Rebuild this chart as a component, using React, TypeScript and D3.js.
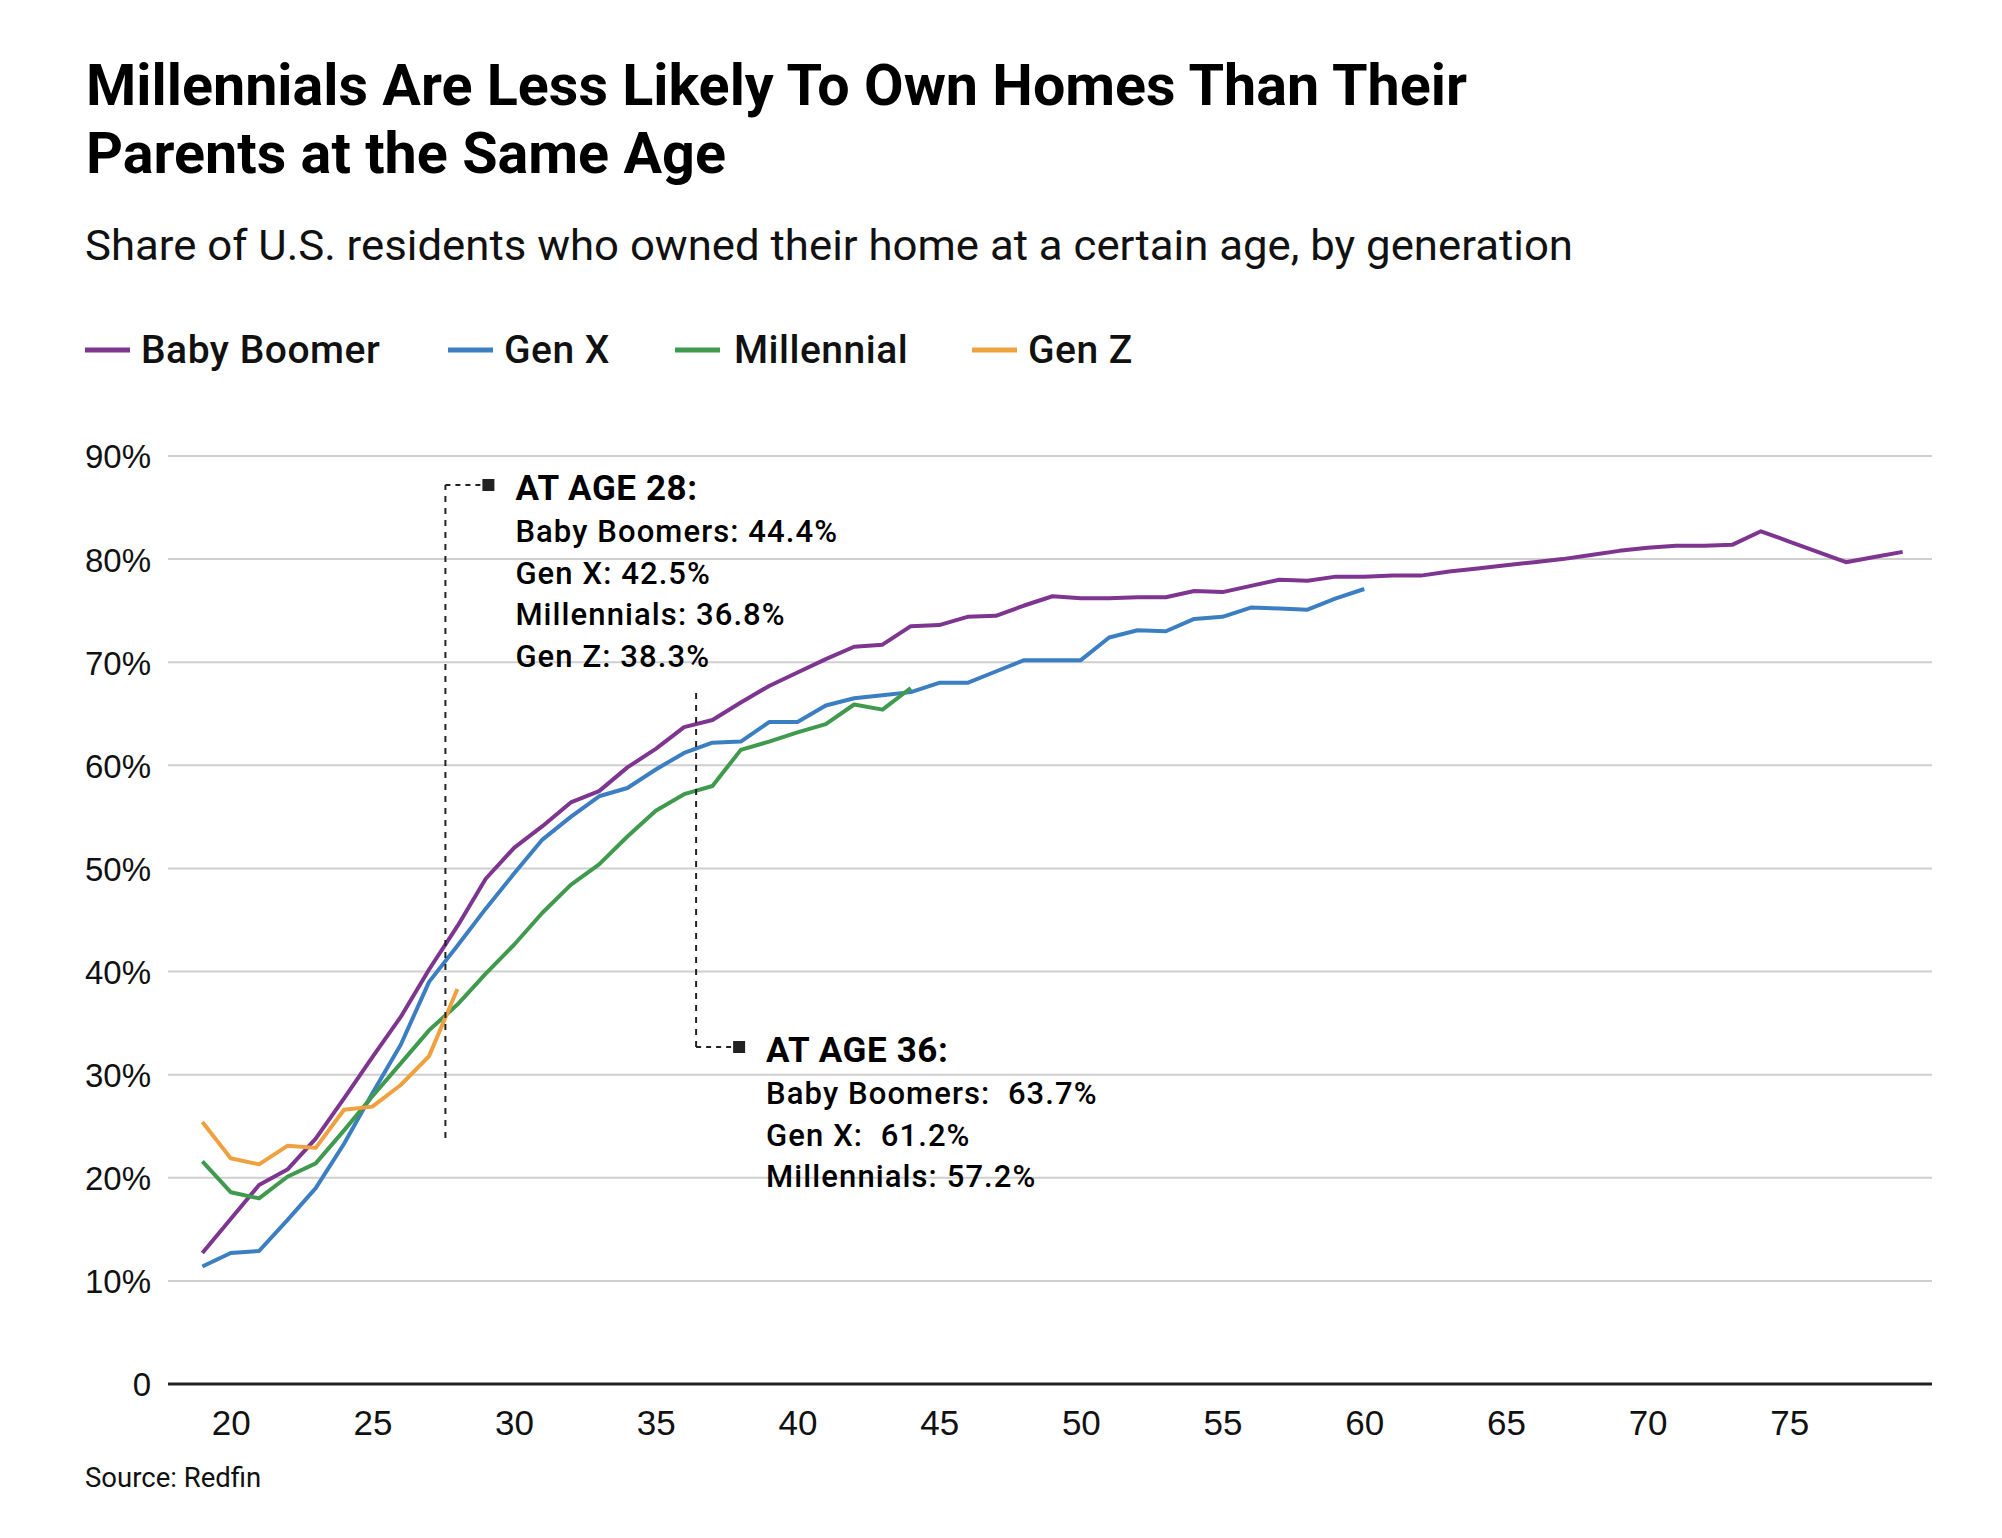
import { useEffect, useRef } from "react";
import * as d3 from "d3";

// ages start at 19 for every generation
const startAge = 19;

const boomer: number[] = [
  12.7, 16.0, 19.3, 20.8, 23.8, 27.7, 31.7, 35.6, 40.2, 44.4, 49.0, 52.0, 54.1, 56.4, 57.5, 59.8, 61.6, 63.7,
  64.4, 66.1, 67.7, 69.0, 70.3, 71.5, 71.7, 73.5, 73.6, 74.4, 74.5, 75.5, 76.4, 76.2, 76.2, 76.3, 76.3, 76.9,
  76.8, 77.4, 78.0, 77.9, 78.3, 78.3, 78.4, 78.4, 78.8, 79.1, 79.4, 79.7, 80.0, 80.4, 80.8, 81.1, 81.3, 81.3,
  81.4, 82.7, 81.7, 80.7, 79.7, 80.2, 80.7,
];

const genX: number[] = [
  11.4, 12.7, 12.9, 15.9, 19.0, 23.3, 28.2, 32.9, 39.0, 42.5, 46.1, 49.5, 52.8, 55.0, 57.0, 57.8, 59.6, 61.2,
  62.2, 62.3, 64.2, 64.2, 65.8, 66.5, 66.8, 67.1, 68.0, 68.0, 69.1, 70.2, 70.2, 70.2, 72.4, 73.1, 73.0, 74.2,
  74.4, 75.3, 75.2, 75.1, 76.2, 77.1,
];

const millennial: number[] = [
  21.6, 18.6, 18.0, 20.1, 21.4, 24.6, 27.9, 31.1, 34.3, 36.8, 39.8, 42.6, 45.7, 48.4, 50.4, 53.1, 55.6, 57.2,
  58.0, 61.5, 62.3, 63.2, 64.0, 65.9, 65.4, 67.5,
];

const genZ: number[] = [25.4, 21.9, 21.3, 23.1, 22.9, 26.6, 26.9, 29.0, 31.8, 38.3];

const seriesNames = ["Baby Boomer", "Gen X", "Millennial", "Gen Z"];
const seriesColors = ["#7e3590", "#3b7ec1", "#3f9a4d", "#efa13f"];
const seriesValues = [boomer, genX, millennial, genZ];

const xTicks = [20, 25, 30, 35, 40, 45, 50, 55, 60, 65, 70, 75];
const yTicks = [0, 10, 20, 30, 40, 50, 60, 70, 80, 90];

const note28 = ["Baby Boomers: 44.4%", "Gen X: 42.5%", "Millennials: 36.8%", "Gen Z: 38.3%"];
const note36 = ["Baby Boomers:  63.7%", "Gen X:  61.2%", "Millennials: 57.2%"];

function App() {
  const svgRef = useRef<SVGSVGElement>(null);

  useEffect(() => {
    if (!svgRef.current) return;
    const svg = d3.select(svgRef.current);
    svg.selectAll("*").remove();

    const width = 2002;
    const height = 1538;
    svg.attr("width", width).attr("height", height);

    const sans = "Roboto, 'Liberation Sans', sans-serif";
    const arial = "'Liberation Sans', Arial, sans-serif";

    svg.append("rect").attr("width", width).attr("height", height).attr("fill", "#fff");

    // scales
    const x = d3.scaleLinear().domain([20, 75]).range([230.7, 1789.3]);
    const y = d3.scaleLinear().domain([0, 90]).range([1384, 456]);
    const plotLeft = 168;
    const plotRight = 1932;

    // title block
    svg
      .append("text")
      .attr("x", 86)
      .attr("y", 105)
      .attr("font-family", sans)
      .attr("font-weight", 700)
      .attr("font-size", 58)
      .attr("textLength", 1381)
      .attr("lengthAdjust", "spacingAndGlyphs")
      .attr("fill", "#000")
      .text("Millennials Are Less Likely To Own Homes Than Their");
    svg
      .append("text")
      .attr("x", 86)
      .attr("y", 173)
      .attr("font-family", sans)
      .attr("font-weight", 700)
      .attr("font-size", 58)
      .attr("textLength", 640)
      .attr("lengthAdjust", "spacingAndGlyphs")
      .attr("fill", "#000")
      .text("Parents at the Same Age");
    svg
      .append("text")
      .attr("x", 85)
      .attr("y", 260)
      .attr("font-family", sans)
      .attr("font-size", 42)
      .attr("textLength", 1488)
      .attr("lengthAdjust", "spacingAndGlyphs")
      .attr("fill", "#111")
      .text("Share of U.S. residents who owned their home at a certain age, by generation");

    // legend
    const legendX = [85, 448, 675, 972];
    const legend = svg
      .append("g")
      .selectAll("g")
      .data(seriesNames)
      .join("g")
      .attr("transform", (_, i) => `translate(${legendX[i]},350)`);
    legend
      .append("line")
      .attr("x1", 0)
      .attr("x2", 45)
      .attr("stroke", (_, i) => seriesColors[i])
      .attr("stroke-width", 5);
    legend
      .append("text")
      .attr("x", (_, i) => (i === 2 ? 59 : 56))
      .attr("y", 13)
      .attr("font-family", sans)
      .attr("font-weight", 500)
      .attr("font-size", 39)
      .attr("letter-spacing", 0.5)
      .attr("fill", "#111")
      .text((d) => d);

    // gridlines
    svg
      .append("g")
      .selectAll("line")
      .data(yTicks.filter((d) => d > 0))
      .join("line")
      .attr("x1", plotLeft)
      .attr("x2", plotRight)
      .attr("y1", (d) => y(d))
      .attr("y2", (d) => y(d))
      .attr("stroke", "#cfcfcf")
      .attr("stroke-width", 2);

    // y axis labels
    const yAxis = svg
      .append("g")
      .attr("transform", "translate(151,0)")
      .call(
        d3
          .axisLeft(y)
          .tickValues(yTicks)
          .tickSize(0)
          .tickPadding(0)
          .tickFormat((d) => (d === 0 ? "0" : `${d}%`))
      );
    yAxis.select(".domain").remove();
    yAxis
      .selectAll("text")
      .attr("font-family", arial)
      .attr("font-size", 33)
      .attr("fill", "#111")
      .attr("dy", "0.36em");

    // x axis
    const xAxis = svg
      .append("g")
      .attr("transform", "translate(0,1384)")
      .call(d3.axisBottom(x).tickValues(xTicks).tickSize(0).tickPadding(0));
    xAxis.select(".domain").remove();
    xAxis
      .selectAll("text")
      .attr("font-family", arial)
      .attr("font-size", 35)
      .attr("fill", "#111")
      .attr("dy", 0)
      .attr("y", 51);
    svg
      .append("line")
      .attr("x1", plotLeft)
      .attr("x2", plotRight)
      .attr("y1", y(0))
      .attr("y2", y(0))
      .attr("stroke", "#222")
      .attr("stroke-width", 3);

    // series lines
    const line = d3
      .line<number>()
      .x((_, i) => x(startAge + i))
      .y((d) => y(d));
    svg
      .append("g")
      .selectAll("path")
      .data(seriesValues)
      .join("path")
      .attr("d", (d) => line(d))
      .attr("fill", "none")
      .attr("stroke", (_, i) => seriesColors[i])
      .attr("stroke-width", 4)
      .attr("stroke-linejoin", "round");

    // annotations
    const annotate = (lx: number, yTop: number, yBottom: number, hookY: number, age: number, rows: string[]) => {
      const g = svg.append("g");
      g.append("path")
        .attr("d", `M${lx},${yBottom} L${lx},${yTop}`)
        .attr("stroke", "#222")
        .attr("stroke-width", 2)
        .attr("stroke-dasharray", "6,6")
        .attr("fill", "none");
      g.append("path")
        .attr("d", `M${lx},${hookY} L${lx + 36},${hookY}`)
        .attr("stroke", "#222")
        .attr("stroke-width", 2)
        .attr("stroke-dasharray", "5,5")
        .attr("fill", "none");
      g.append("rect")
        .attr("x", lx + 37)
        .attr("y", hookY - 6)
        .attr("width", 12)
        .attr("height", 12)
        .attr("fill", "#222");
      g.append("text")
        .attr("x", lx + 70)
        .attr("y", hookY + 15)
        .attr("font-family", sans)
        .attr("font-weight", 700)
        .attr("font-size", 35)
        .attr("letter-spacing", 0.6)
        .attr("fill", "#000")
        .text(`AT AGE ${age}:`);
      g.selectAll("text.row")
        .data(rows)
        .join("text")
        .attr("class", "row")
        .attr("x", lx + 70)
        .attr("y", (_, i) => hookY + 57 + i * 41.7)
        .attr("font-family", sans)
        .attr("font-weight", 500)
        .attr("font-size", 31)
        .attr("letter-spacing", 1.1)
        .attr("fill", "#000")
        .style("white-space", "pre")
        .text((d) => d);
    };
    annotate(x(28) - 12, 485, 1138, 485, 28, note28);
    annotate(x(36) + 12, 692, 1047, 1047, 36, note36);

    // source
    svg
      .append("text")
      .attr("x", 85)
      .attr("y", 1487)
      .attr("font-family", sans)
      .attr("font-size", 27.5)
      .attr("fill", "#111")
      .text("Source: Redfin");
  }, []);

  return <svg ref={svgRef} style={{ position: "absolute", left: 0, top: 0 }}></svg>;
}

export default App;
